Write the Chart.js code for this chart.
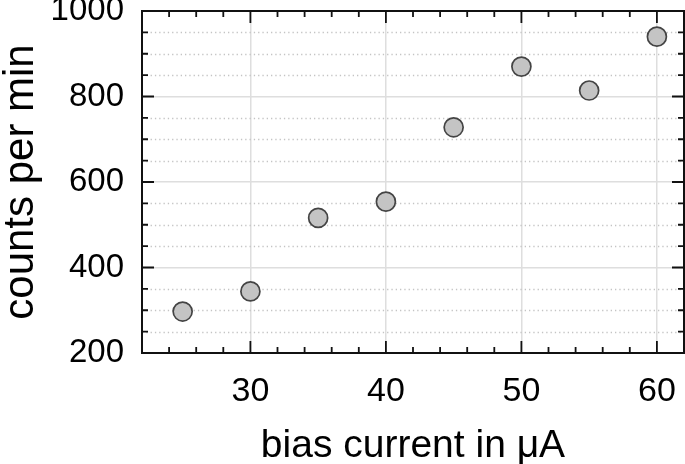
<!DOCTYPE html>
<html>
<head>
<meta charset="utf-8">
<script src="https://cdn.jsdelivr.net/npm/chart.js@4"></script>
<style>
  html, body { margin: 0; padding: 0; background: #fff; }
  #wrap { width: 685px; height: 464px; }
</style>
</head>
<body>
<div id="wrap"><canvas id="chart" width="685" height="464"></canvas></div>
<script>
// bias current (µA) vs counts per minute
const biasCurrent = [25, 30, 35, 40, 45, 50, 55, 60];
const countsPerMin = [297, 344, 516, 554, 728, 870, 814, 940];

const xTicks = [30, 40, 50, 60];
const yTicks = [200, 400, 600, 800, 1000];

const FONT = "'Liberation Sans', Arial, Helvetica, sans-serif";

// dotted minor grid, inward ticks on all four sides and the frame
const framePlugin = {
  id: 'frame',
  beforeDatasetsDraw(chart) {
    const { ctx, chartArea: a, scales: { x, y } } = chart;
    ctx.save();
    ctx.strokeStyle = '#c4c4c4';
    ctx.lineWidth = 1.3;
    ctx.setLineDash([1.3, 3]);
    for (let v = 250; v < 1000; v += 50) {
      if (v % 200 === 0) continue;
      const py = Math.round(y.getPixelForValue(v)) + 0.5;
      ctx.beginPath();
      ctx.moveTo(a.left, py);
      ctx.lineTo(a.right, py);
      ctx.stroke();
    }
    ctx.restore();
  },
  afterDraw(chart) {
    const { ctx, chartArea: a, scales: { x, y } } = chart;
    ctx.save();
    ctx.strokeStyle = '#111';
    ctx.lineWidth = 2;
    ctx.strokeRect(a.left, a.top, a.right - a.left, a.bottom - a.top);

    ctx.lineWidth = 1.8;
    ctx.beginPath();
    for (let v = 24; v <= 62; v += 2) {
      const px = x.getPixelForValue(v);
      const len = v % 10 === 0 ? 12 : 6;
      ctx.moveTo(px, a.bottom); ctx.lineTo(px, a.bottom - len);
      ctx.moveTo(px, a.top); ctx.lineTo(px, a.top + len);
    }
    for (let v = 250; v < 1000; v += 50) {
      const py = y.getPixelForValue(v);
      const len = v % 200 === 0 ? 12 : 6;
      ctx.moveTo(a.left, py); ctx.lineTo(a.left + len, py);
      ctx.moveTo(a.right, py); ctx.lineTo(a.right - len, py);
    }
    ctx.stroke();
    ctx.restore();
  }
};

new Chart(document.getElementById('chart'), {
  type: 'scatter',
  data: {
    datasets: [{
      label: 'counts per min',
      data: biasCurrent.map((b, i) => ({ x: b, y: countsPerMin[i] })),
      pointRadius: 9.5,
      pointHoverRadius: 9.5,
      backgroundColor: '#c4c4c4',
      borderColor: '#444',
      borderWidth: 1.7
    }]
  },
  options: {
    responsive: false,
    animation: false,
    layout: { autoPadding: false, padding: { top: 11, right: 1, left: 0, bottom: 0 } },
    plugins: { legend: { display: false }, tooltip: { enabled: false } },
    scales: {
      x: {
        type: 'linear',
        min: 22,
        max: 62,
        afterBuildTicks: s => { s.ticks = xTicks.map(v => ({ value: v })); },
        afterFit: s => { s.height = 111; s.paddingLeft = 0; s.paddingRight = 0; },
        grid: { color: '#dedede', lineWidth: 1.5, drawTicks: false },
        border: { display: false },
        ticks: {
          color: '#000', padding: 0,
          font: { family: FONT, size: 34, lineHeight: 2.27 },
          callback: v => String(v)
        },
        title: {
          display: true,
          text: 'bias current in μA',
          color: '#000',
          font: { family: FONT, size: 39, lineHeight: 0.84 },
          padding: { top: 0, bottom: 1 }
        }
      },
      y: {
        min: 200,
        max: 1000,
        afterBuildTicks: s => { s.ticks = yTicks.map(v => ({ value: v })); },
        afterFit: s => { s.width = 142; s.paddingTop = 0; s.paddingBottom = 0; },
        grid: { color: '#dedede', lineWidth: 1.5, drawTicks: false },
        border: { display: false },
        ticks: { color: '#000', padding: 18, font: { family: FONT, size: 33 }, callback: v => String(v) },
        title: {
          display: true,
          text: 'counts per min',
          color: '#000',
          font: { family: FONT, size: 42, lineHeight: 1 },
          padding: { top: 0, bottom: 0 }
        }
      }
    }
  },
  plugins: [framePlugin]
});
</script>
</body>
</html>
